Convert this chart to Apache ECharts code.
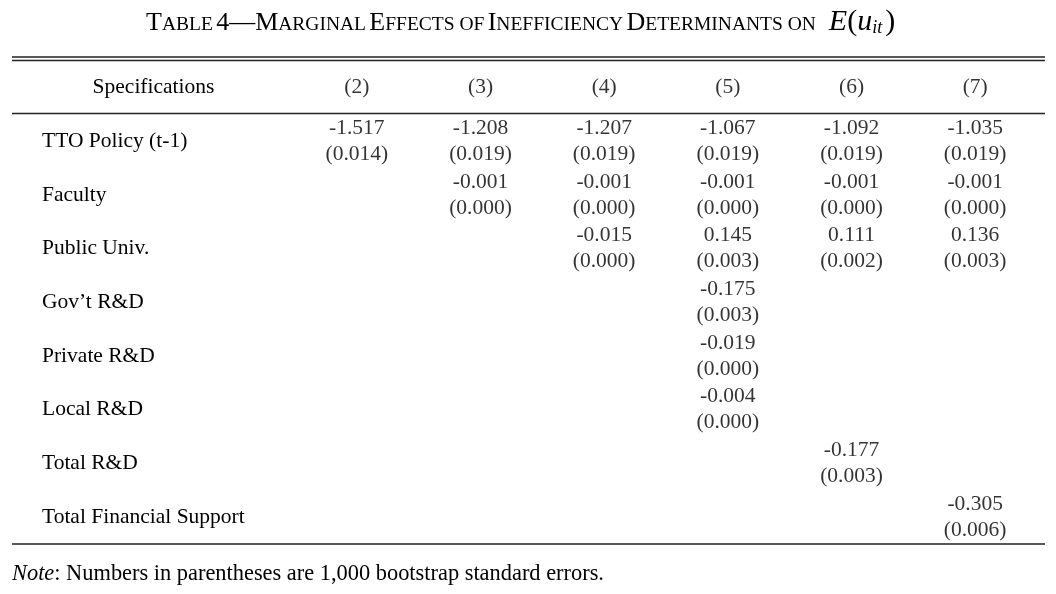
<!DOCTYPE html>
<html>
<head>
<meta charset="utf-8">
<script src="https://cdn.jsdelivr.net/npm/echarts@6/dist/echarts.min.js"></script>
<style>
html,body{margin:0;padding:0;background:#fff;}
#chart{width:1056px;height:594px;}
</style>
</head>
<body>
<div id="chart"></div>
<script>
// ---- data ----
const headerLabel = 'Specifications';
const columns = ['(2)', '(3)', '(4)', '(5)', '(6)', '(7)'];
const rowNames = ['TTO Policy (t-1)', 'Faculty', 'Public Univ.', 'Gov\u2019t R&D', 'Private R&D', 'Local R&D', 'Total R&D', 'Total Financial Support'];

const coefTTO     = ['-1.517', '-1.208', '-1.207', '-1.067', '-1.092', '-1.035'];
const seTTO       = ['0.014', '0.019', '0.019', '0.019', '0.019', '0.019'];
const coefFaculty = [null, '-0.001', '-0.001', '-0.001', '-0.001', '-0.001'];
const seFaculty   = [null, '0.000', '0.000', '0.000', '0.000', '0.000'];
const coefPublic  = [null, null, '-0.015', '0.145', '0.111', '0.136'];
const sePublic    = [null, null, '0.000', '0.003', '0.002', '0.003'];
const coefGov     = [null, null, null, '-0.175', null, null];
const seGov       = [null, null, null, '0.003', null, null];
const coefPrivate = [null, null, null, '-0.019', null, null];
const sePrivate   = [null, null, null, '0.000', null, null];
const coefLocal   = [null, null, null, '-0.004', null, null];
const seLocal     = [null, null, null, '0.000', null, null];
const coefTotalRD = [null, null, null, null, '-0.177', null];
const seTotalRD   = [null, null, null, null, '0.003', null];
const coefTotalFS = [null, null, null, null, null, '-0.305'];
const seTotalFS   = [null, null, null, null, null, '0.006'];

const coefRows = [coefTTO, coefFaculty, coefPublic, coefGov, coefPrivate, coefLocal, coefTotalRD, coefTotalFS];
const seRows   = [seTTO, seFaculty, sePublic, seGov, sePrivate, seLocal, seTotalRD, seTotalFS];
const noteText = 'Numbers in parentheses are 1,000 bootstrap standard errors.';

// ---- build ----
const FONT = "'Liberation Serif', 'Times New Roman', serif";
const TXT = '#000';
const BODY = 21.5;
const yCats = [headerLabel].concat(rowNames);

const cellData = [];
rowNames.forEach((r, ri) => {
  columns.forEach((c, ci) => {
    const v = coefRows[ri][ci];
    if (v !== null) cellData.push({ value: [c, r], coef: v, se: seRows[ri][ci] });
  });
});
const headerData = columns.map(c => ({ value: [c, headerLabel], txt: c }));

const chart = echarts.init(document.getElementById('chart'), null, { renderer: 'canvas' });
const ruleStyle = { stroke: '#222', lineWidth: 1.3 };
const hidden = { color: 'rgba(0,0,0,0)' };
chart.setOption({
  backgroundColor: '#fff',
  animation: false,
  grid: { left: 295, right: 19, top: 61, bottom: 50 },
  xAxis: {
    type: 'category', data: columns, boundaryGap: true,
    axisLine: { show: false }, axisTick: { show: false }, axisLabel: { show: false }, splitLine: { show: false }
  },
  yAxis: {
    type: 'category', data: yCats, inverse: true, boundaryGap: true,
    axisLine: { show: false }, axisTick: { show: false }, splitLine: { show: false },
    axisLabel: {
      align: 'left', margin: 253, fontFamily: FONT, fontSize: BODY, color: TXT,
      formatter: v => v === headerLabel ? '{h|' + v + '}' : v,
      rich: { h: { width: 223, align: 'center', fontFamily: FONT, fontSize: BODY, color: TXT } }
    }
  },
  series: [
    {
      type: 'scatter', data: cellData, symbolSize: 1, itemStyle: hidden, silent: true,
      label: {
        show: true, position: 'inside', fontFamily: FONT, fontSize: BODY, lineHeight: 26, color: TXT,
        formatter: p => p.data.coef + '\n(' + p.data.se + ')'
      }
    },
    {
      type: 'scatter', data: headerData, symbolSize: 1, itemStyle: hidden, silent: true,
      label: {
        show: true, position: 'inside', fontFamily: FONT, fontSize: BODY, color: TXT,
        formatter: p => p.data.txt
      }
    }
  ],
  graphic: [
    { type: 'line', shape: { x1: 12, y1: 57, x2: 1045, y2: 57 }, style: ruleStyle },
    { type: 'line', shape: { x1: 12, y1: 60.5, x2: 1045, y2: 60.5 }, style: ruleStyle },
    { type: 'line', shape: { x1: 12, y1: 113.5, x2: 1045, y2: 113.5 }, style: ruleStyle },
    { type: 'line', shape: { x1: 12, y1: 544, x2: 1045, y2: 544 }, style: ruleStyle },
    {
      type: 'text', left: 146, top: 7,
      style: {
        text: '{b|T}{s|ABLE} {b|4\u2014M}{s|ARGINAL} {b|E}{s|FFECTS OF} {b|I}{s|NEFFICIENCY} {b|D}{s|ETERMINANTS ON}{g| }{i|E}{p|(}{i|u}{sub|it}{p|)}',
        rich: {
          b: { fontFamily: FONT, fontSize: 26, fill: TXT, verticalAlign: 'bottom', lineHeight: 32, padding: [0, 0, 1, 0] },
          s: { fontFamily: FONT, fontSize: 19.5, fill: TXT, verticalAlign: 'bottom', lineHeight: 32, padding: [0, 0, 2, 0] },
          g: { fontFamily: FONT, fontSize: 19.5, width: 13 },
          i: { fontFamily: FONT, fontSize: 30, fontStyle: 'italic', fill: TXT, verticalAlign: 'bottom', lineHeight: 32 },
          p: { fontFamily: FONT, fontSize: 30, fill: TXT, verticalAlign: 'bottom', lineHeight: 32 },
          sub: { fontFamily: FONT, fontSize: 18, fontStyle: 'italic', fill: TXT, verticalAlign: 'bottom', lineHeight: 32, padding: [12, 3, 0, 0] }
        }
      }
    },
    {
      type: 'text', left: 12, top: 563,
      style: {
        text: '{i|Note}{n|: ' + noteText + '}',
        rich: {
          i: { fontFamily: FONT, fontSize: 22.4, fontStyle: 'italic', fill: TXT },
          n: { fontFamily: FONT, fontSize: 22.4, fill: TXT }
        }
      }
    }
  ]
});
</script>
</body>
</html>
